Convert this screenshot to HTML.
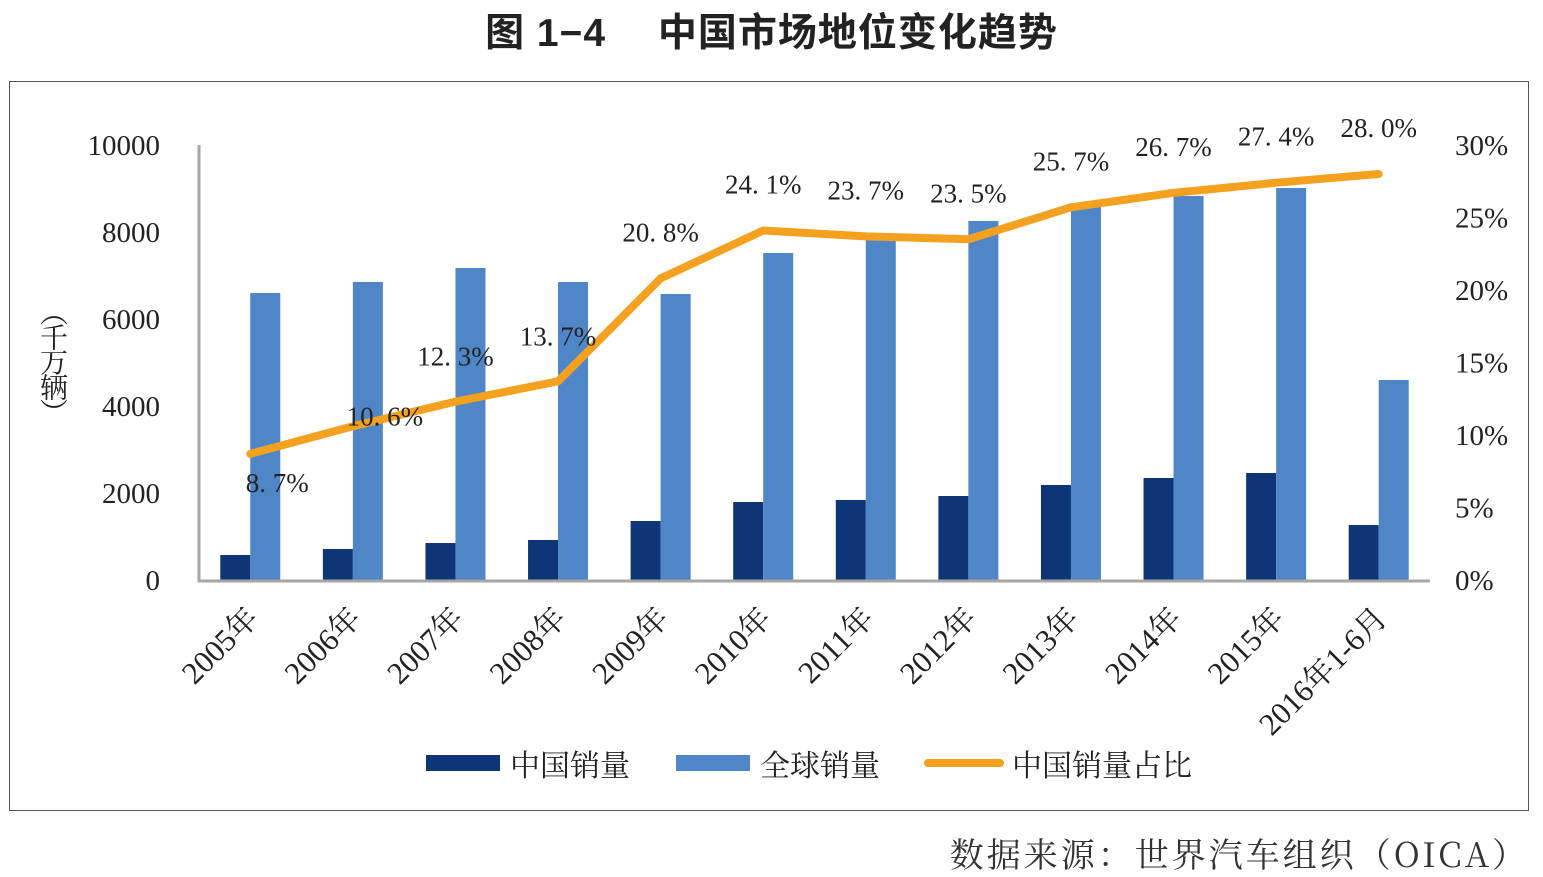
<!DOCTYPE html>
<html><head><meta charset="utf-8"><style>
body{margin:0;background:#fff;width:1543px;height:877px;overflow:hidden;position:relative;font-family:"Liberation Serif","Noto Serif CJK SC",serif}
</style></head><body>
<div style="position:absolute;left:0;width:1543px;top:2px;text-align:center;font:bold 39px 'Liberation Sans','Noto Sans CJK SC',sans-serif;color:#222;letter-spacing:1px">图 1−4　 中国市场地位变化趋势</div>
<div style="position:absolute;left:9px;top:81px;width:1518px;height:728px;border:1.5px solid #555"></div>
<div style="position:absolute;right:14px;top:828px;font-size:34px;color:#333;letter-spacing:3px;font-family:'Noto Serif CJK SC','Liberation Serif',serif">数据来源：世界汽车组织（OICA）</div>
<svg id="c" width="1543" height="877" style="position:absolute;left:0;top:0"></svg>
<script>
const categories=["2005年","2006年","2007年","2008年","2009年","2010年","2011年","2012年","2013年","2014年","2015年","2016年1-6月"];
const chinaSales=[575,713,850,920,1356,1793,1840,1931,2184,2345,2460,1264];
const globalSales=[6598,6851,7172,6851,6575,7517,7908,8253,8620,8828,9011,4598];
const chinaShare=[8.7,10.6,12.3,13.7,20.8,24.1,23.7,23.5,25.7,26.7,27.4,28.0];
const leftTicks=[0,2000,4000,6000,8000,10000];
const rightTicks=[0,5,10,15,20,25,30];
const svg=document.getElementById('c');const NS='http://www.w3.org/2000/svg';
const X0=199,X1=1430,Y0=580,YT=145,band=(X1-X0)/categories.length;
const yL=v=>Y0-(Y0-YT)*v/10000, yR=v=>Y0-(Y0-YT)*v/30, xc=i=>X0+band*(i+0.5);
function mk(t,a,txt){const e=document.createElementNS(NS,t);for(const k in a)e.setAttribute(k,a[k]);if(txt!=null)e.textContent=txt;svg.appendChild(e);return e;}
const ff="'Liberation Serif','Noto Serif CJK SC',serif";
leftTicks.forEach(v=>{const t=mk('text',{x:160,y:yL(v)+10,'text-anchor':'end','font-size':29,fill:'#222','font-family':ff},v);
});
rightTicks.forEach(v=>{const t=mk('text',{x:1455,y:yR(v)+10,'font-size':29,fill:'#222','font-family':ff},v+'%');
});
categories.forEach((c,i)=>{
const h1=mk('rect',{x:xc(i)-30,y:yL(chinaSales[i]),width:30,height:Y0-yL(chinaSales[i]),fill:'#0e3677'});

const h2=mk('rect',{x:xc(i),y:yL(globalSales[i]),width:30,height:Y0-yL(globalSales[i]),fill:'#4e86c8'});

const t=mk('text',{x:0,y:0,'text-anchor':'end','font-size':31,fill:'#222','font-family':ff,transform:`translate(${xc(i)+10},${620}) rotate(-45)`},c);

});
const ax=mk('path',{d:`M${X0},${YT} V${Y0+1} H${X1}`,stroke:'#a6a6a6','stroke-width':3,fill:'none'});

const pts=chinaShare.map((v,i)=>xc(i)+','+yR(v)).join(' ');
const ln=mk('polyline',{points:pts,fill:'none',stroke:'#f4a11f','stroke-width':8,'stroke-linejoin':'round','stroke-linecap':'round'});

const dx=[27,32,0,0,0,0,0,0,0,0,0,0],dy=[38,-1,-36,-36,-37,-37,-37,-37,-37,-37,-37,-37];
chinaShare.forEach((v,i)=>{const t=mk('text',{x:xc(i)+dx[i],y:yR(v)+dy[i],'text-anchor':'middle','font-size':27,fill:'#222','font-family':ff},v.toFixed(1).replace('.','. ')+'%');
});
</script>
<div style="position:absolute;left:34px;top:298px;writing-mode:vertical-rl;font-size:28px;color:#222;font-family:'Noto Serif CJK SC',serif;letter-spacing:-3px">（千万辆）</div>
<div style="position:absolute;top:744px;left:426px;font-size:30px;color:#222;font-family:'Noto Serif CJK SC',serif;display:flex;align-items:center;height:38px">
<span style="width:74px;height:16px;background:#0e3677;margin-right:10px"></span><span style="margin-right:46px">中国销量</span>
<span style="width:74px;height:16px;background:#4e86c8;margin-right:10px"></span><span style="margin-right:44px">全球销量</span>
<span style="width:80px;height:8px;border-radius:4px;background:#f4a11f;margin-right:8px"></span><span>中国销量占比</span>
</div>
</body></html>
